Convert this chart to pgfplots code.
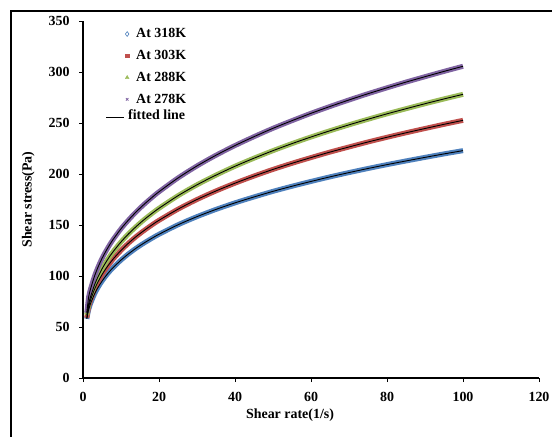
\documentclass[border=0pt]{standalone}
\usepackage{pgfplots}
\pgfplotsset{compat=1.18}
\usepackage{pgfplotstable}
\usepackage{fontspec}
\setmainfont{Liberation Serif}
\definecolor{cB}{HTML}{4F81BD}
\definecolor{cR}{HTML}{C0504D}
\definecolor{cG}{HTML}{9BBB59}
\definecolor{cP}{HTML}{8064A2}
\pgfplotstableread{
x    B     R     G     P
1    58.0  59.0  62.0  64.0
1.5  67.3  70.2  72.8  79.7
2    73.1  76.6  79.8  87.4
3    82.1  86.7  90.9  99.5
4    89.1  94.6  99.6  109.1
5    94.9  101.3 106.9 117.2
6    100.0 107.1 113.3 124.2
7    104.5 112.2 119.1 130.5
8    108.5 116.9 124.2 136.2
10   115.6 125.1 133.4 146.3
12   121.8 132.3 141.4 155.0
14   127.3 138.7 148.5 162.9
16   132.2 144.4 155.0 170.0
18   136.7 149.7 160.9 176.5
20   140.9 154.6 166.4 182.6
25   150.2 165.5 178.7 196.1
30   158.2 175.0 189.4 207.9
35   165.3 183.4 198.9 218.4
40   171.7 191.0 207.6 227.9
45   177.5 198.0 215.5 236.6
50   183.0 204.5 222.9 244.8
55   188.0 210.5 229.8 252.3
60   192.7 216.1 236.3 259.5
65   197.2 221.5 242.4 266.2
70   201.4 226.5 248.2 272.6
75   205.4 231.4 253.7 278.7
80   209.2 236.0 259.0 284.5
85   212.8 240.4 264.0 290.1
90   216.3 244.6 268.9 295.4
95   219.7 248.7 273.6 300.6
100  222.9 252.6 278.1 305.6
}\datatable
\begin{document}
\begin{tikzpicture}
\useasboundingbox (0bp,0bp) rectangle (552bp,-437bp);
\draw[line width=2bp] (11bp,-437bp) -- (11bp,-11bp);
\draw[line width=2bp] (10bp,-11bp) -- (552bp,-11bp);
\begin{axis}[
  at={(83bp,-378bp)}, anchor=south west,
  scale only axis, width=456bp, height=357bp,
  xmin=0, xmax=120, ymin=0, ymax=350,
  xtick={0,20,...,120}, ytick={0,50,...,350},
  axis lines*=left,
  axis line style={line width=1.3bp, black},
  tick align=outside, major tick length=4bp,
  tick style={line width=1bp, black},
  tick label style={font=\fontsize{14}{15}\selectfont\bfseries},
  xticklabel style={yshift=-7bp},
  yticklabel style={xshift=-6bp},
  /pgf/number format/assume math mode=true,
  xlabel={Shear rate(1/s)}, ylabel={Shear stress(Pa)},
  label style={font=\fontsize{14}{15}\selectfont\bfseries},
  xlabel style={at={(axis description cs:0.454,-0.103)}, anchor=center},
  ylabel style={at={(axis description cs:-0.12,0.5)}, anchor=center},
  legend style={at={(axis description cs:0.0504,0.982)}, anchor=north west,
    draw=none, fill=none, font=\fontsize{14}{15}\selectfont\bfseries,
    inner sep=0pt, row sep=9bp, nodes={inner sep=1bp}},
  legend cell align=left,
]
\addplot[cB, line width=5bp, smooth,
  legend image code/.code={\path[draw=none, fill=none] (-15bp,-3bp) rectangle (14bp,3bp);
    \draw[cB, line width=0.6bp, mark=diamond, mark size=2.4bp, mark options={fill=white, line width=0.6bp}] plot coordinates {(6bp,0bp)};}]
  table[x=x,y=B] {\datatable};
\addlegendentry{At 318K}
\addplot[cR, line width=5bp, smooth,
  legend image code/.code={\path[draw=none, fill=none] (-15bp,-3bp) rectangle (14bp,3bp);
    \draw[cR, line width=0.3bp, mark=square*, mark size=1.7bp, mark options={line width=0.3bp}] plot coordinates {(6bp,0bp)};}]
  table[x=x,y=R] {\datatable};
\addlegendentry{At 303K}
\addplot[cG, line width=5bp, smooth,
  legend image code/.code={\path[draw=none, fill=none] (-15bp,-3bp) rectangle (14bp,3bp);
    \draw[cG, line width=0.3bp, mark=triangle*, mark size=2.2bp, mark options={line width=0.3bp}] plot coordinates {(6bp,0bp)};}]
  table[x=x,y=G] {\datatable};
\addlegendentry{At 288K}
\addplot[cP, line width=5bp, smooth,
  legend image code/.code={\path[draw=none, fill=none] (-15bp,-3bp) rectangle (14bp,3bp);
    \draw[cP, line width=0.8bp, mark=x, mark size=1.8bp, mark options={line width=0.8bp}] plot coordinates {(6bp,0bp)};}]
  table[x=x,y=P] {\datatable};
\addlegendentry{At 278K}
\addplot[black, line width=0.9bp, smooth,
  legend image code/.code={\path[draw=none, fill=none] (-15bp,-3bp) rectangle (14bp,3bp);
    \draw[overlay, black, line width=1bp] (-15bp,0bp) -- (3bp,0bp);}]
  table[x=x,y=B] {\datatable};
\addlegendentry{\hspace*{-8bp}\raisebox{-3bp}[0pt][0pt]{fitted line}}
\addplot[black, line width=0.9bp, smooth, forget plot] table[x=x,y=R] {\datatable};
\addplot[black, line width=0.9bp, smooth, forget plot] table[x=x,y=G] {\datatable};
\addplot[black, line width=0.9bp, smooth, forget plot] table[x=x,y=P] {\datatable};
\end{axis}
\end{tikzpicture}
\end{document}
